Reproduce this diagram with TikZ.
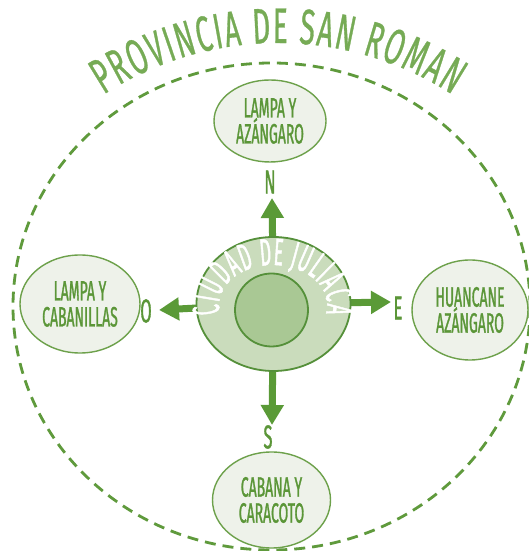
\documentclass[tikz,border=0pt]{standalone}
\usepackage{fontspec}
\usetikzlibrary{shapes.geometric,arrows.meta,decorations.text,backgrounds}
\newfontfamily\titlefont[FakeStretch=0.55,FakeBold=0.6]{Fira Sans}
\newfontfamily\labfont[FakeStretch=0.5,FakeBold=1.0]{Fira Sans}
\newfontfamily\cityfont[FakeStretch=0.46,FakeBold=1.2]{Fira Sans}
\definecolor{dashgreen}{HTML}{5F9A3C}
\definecolor{titlegreen}{HTML}{76AB55}
\definecolor{labgreen}{HTML}{5B9638}
\definecolor{arrowgreen}{HTML}{5A9A37}
\definecolor{placeedge}{HTML}{6DA14B}
\definecolor{placefill}{HTML}{EEF2EA}
\definecolor{cityfill}{HTML}{CADCBC}
\definecolor{coreedge}{HTML}{55903A}
\definecolor{corefill}{HTML}{A9C894}
\tikzset{
  place/.style={ellipse, draw=placeedge, line width=1.4pt, fill=placefill, inner sep=0pt,
    align=center, text=labgreen, font=\labfont\fontsize{28}{26}\selectfont},
  citybox/.style={ellipse, draw=coreedge, line width=1.8pt, fill=cityfill, inner sep=0pt,
    minimum width=154pt, minimum height=134pt},
  corebox/.style={circle, draw=coreedge, line width=1.8pt, fill=corefill, inner sep=0pt,
    minimum size=73pt},
  dirlab/.style={text=labgreen, inner sep=0pt, font=\labfont\fontsize{33}{33}\selectfont},
  dirarrow/.style={draw=arrowgreen, line width=7pt,
    -{Triangle[width=22pt,length=20pt,fill=arrowgreen]}},
  dashline/.style={draw=dashgreen, line width=2.8pt, dash pattern=on 11pt off 7pt}
}
\begin{document}
\begin{tikzpicture}[x=1pt,y=1pt]
\useasboundingbox (0,0) rectangle (529,551);

% nodes
\node[citybox] (c) at (273.5,247) {};
\node[corebox] (ci) at (271.5,241) {};
\node[place, minimum width=112pt, minimum height=82pt] (pN) at (270,430) {LAMPA Y\\AZÁNGARO};
\node[place, minimum width=120pt, minimum height=98pt] (pO) at (80,247) {LAMPA Y\\CABANILLAS};
\node[place, minimum width=116pt, minimum height=100pt] (pE) at (470,241) {HUANCANE\\AZÁNGARO};
\node[place, minimum width=118pt, minimum height=96pt] (pS) at (271.5,51) {CABANA Y\\CARACOTO};

\node[dirlab] (lN) at (270,369) {N};
\node[dirlab] (lE) at (398,243) {E};
\node[dirlab] (lS) at (268,114) {S};
\node[dirlab] (lO) at (146,240) {O};

\coordinate (tN) at (272,353);
\coordinate (tE) at (391,249);
\coordinate (tS) at (272,126);
\coordinate (tO) at (159,241);

\begin{scope}[on background layer]
  \fill[white] (0,0) rectangle (529,551);
  \draw[dashline] (271.5,244.5) ellipse [x radius=258.5pt, y radius=243.5pt];
  \draw[dirarrow] (c.center) -- (tN);
  \draw[dirarrow] (c.center) -- (tE);
  \draw[dirarrow] (c.center) -- (tS);
  \draw[dirarrow] (c.center) -- (tO);
\end{scope}

% curved titles
\path[decorate, decoration={text along path, text color=titlegreen,
    text={|\titlefont\fontsize{50}{50}\selectfont|PROVINCIA DE SAN ROMAN},
    text align=fit to path}]
  (278,188) ++(123:320pt) arc[start angle=123, end angle=57, radius=320pt];

\path[decorate, decoration={text along path, text color=white,
    text={|\cityfont\fontsize{38}{38}\selectfont|CIUDAD DE JULIACA},
    text align=fit to path}]
  (273,246) ++(192:54pt and 40pt) arc[start angle=192, end angle=-12, x radius=54pt, y radius=40pt];
\end{tikzpicture}
\end{document}
